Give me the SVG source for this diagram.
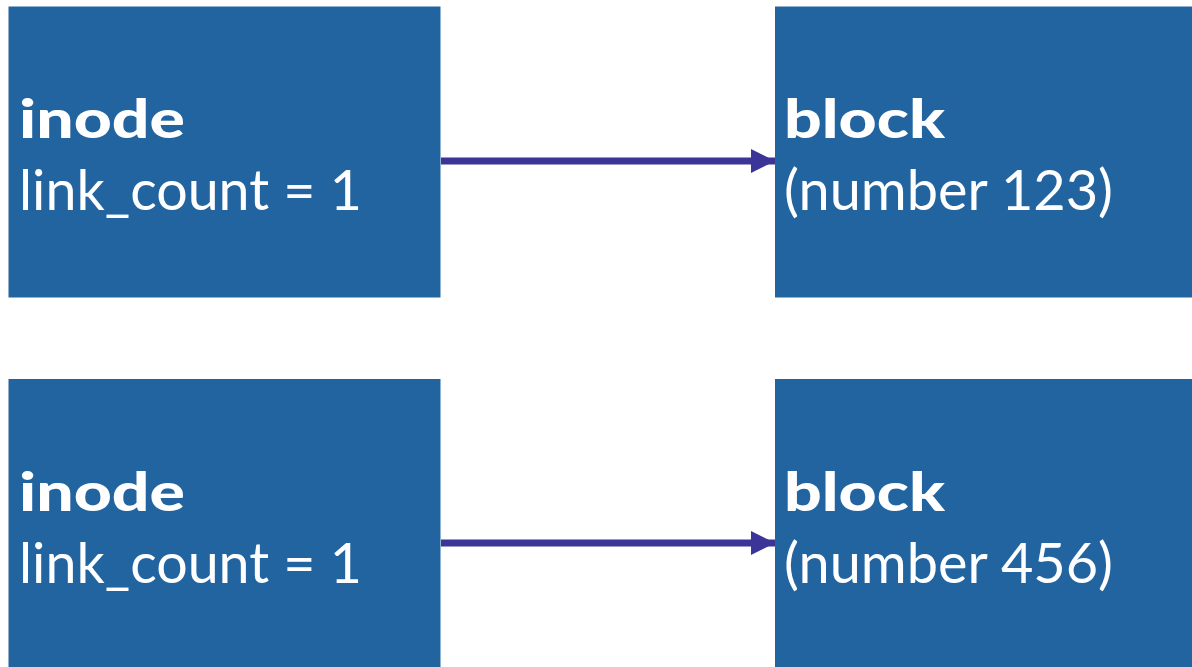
<svg xmlns="http://www.w3.org/2000/svg" width="1192" height="667" viewBox="0 0 1192 667">
  <style>
    .box { fill: #2264a0; }
    .title { font-family: "Lato", "Open Sans", sans-serif; font-weight: 900; font-size: 54px; fill: #ffffff; }
    .body { font-family: "Lato", "Open Sans", sans-serif; font-weight: 400; font-size: 56px; fill: #ffffff; }
    .link { stroke: #3a3597; stroke-width: 7; fill: none; }
  </style>
  <defs>
    <marker id="arrowhead" markerUnits="userSpaceOnUse" markerWidth="24" markerHeight="24" refX="24" refY="12" orient="auto">
      <path d="M0,0 L24,12 L0,24 Z" fill="#3a3597"/>
    </marker>
  </defs>
  <rect width="1192" height="667" fill="#ffffff"/>

  <g id="inode-1">
    <rect class="box" x="8.5" y="6.5" width="432" height="291"/>
    <text class="title" x="19" y="138" textLength="166" lengthAdjust="spacingAndGlyphs">inode</text>
    <text class="body" x="19" y="210" textLength="343" lengthAdjust="spacingAndGlyphs">link_count = 1</text>
  </g>
  <g id="block-123">
    <rect class="box" x="775" y="6.5" width="417" height="291"/>
    <text class="title" x="784" y="138" textLength="161" lengthAdjust="spacingAndGlyphs">block</text>
    <text class="body" x="784" y="210" textLength="329" lengthAdjust="spacingAndGlyphs">(number 123)</text>
  </g>
  <g id="inode-2">
    <rect class="box" x="8.5" y="379" width="432" height="288"/>
    <text class="title" x="19" y="511" textLength="166" lengthAdjust="spacingAndGlyphs">inode</text>
    <text class="body" x="19" y="583" textLength="343" lengthAdjust="spacingAndGlyphs">link_count = 1</text>
  </g>
  <g id="block-456">
    <rect class="box" x="775" y="379" width="417" height="288"/>
    <text class="title" x="784" y="511" textLength="161" lengthAdjust="spacingAndGlyphs">block</text>
    <text class="body" x="784" y="583" textLength="329" lengthAdjust="spacingAndGlyphs">(number 456)</text>
  </g>

  <g id="connectors">
    <line class="link" x1="441" y1="161" x2="775" y2="161" marker-end="url(#arrowhead)"/>
    <line class="link" x1="441" y1="543" x2="775" y2="543" marker-end="url(#arrowhead)"/>
  </g>
</svg>
